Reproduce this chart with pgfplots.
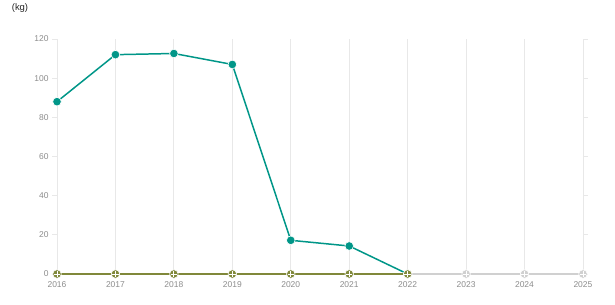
\documentclass[border=0pt]{standalone}
\usepackage{pgfplots}
\pgfplotsset{compat=1.18}
\usepackage{fontspec}
\setmainfont{Liberation Sans}
\definecolor{teal1}{RGB}{0,150,136}
\definecolor{olive1}{RGB}{128,136,58}
\definecolor{lgray}{RGB}{208,208,208}
\definecolor{gridc}{RGB}{232,232,232}
\definecolor{tickc}{RGB}{140,140,140}
\begin{document}
\begin{tikzpicture}
\useasboundingbox (-57bp,-31bp) rectangle (558bp,274bp);
\begin{axis}[
  at={(0,0)}, anchor=south west,
  scale only axis, width=526bp, height=235bp,
  xmin=2016, xmax=2025, ymin=0, ymax=120,
  xtick={2016,...,2025}, minor x tick num=1,
  ytick={0,20,...,120},
  xmajorgrids, xminorgrids, ymajorgrids=false,
  major grid style={gridc, line width=0.8pt},
  minor grid style={gridc, line width=0.8pt},
  axis line style={draw=none},
  x tick style={draw=none}, minor x tick style={draw=none},
  y tick style={draw=gridc, line width=0.8pt},
  tick align=outside, major tick length=5bp,
  /pgf/number format/assume math mode=true,
  x tick label style={/pgf/number format/1000 sep={}, font=\fontsize{8.5}{10}\selectfont, text=tickc, yshift=1bp},
  y tick label style={font=\fontsize{8.5}{10}\selectfont, text=tickc},
  clip=false,
]
\addplot[teal1, line width=1.5pt, mark=*, mark size=4.3bp, mark options={draw=white, line width=0.6pt, fill=teal1}]
  coordinates {(2016,88) (2017,112) (2018,112.6) (2019,107) (2020,17.2) (2021,14.3) (2022,0)};
\addplot[lgray, line width=1.2pt, mark=*, mark size=4.3bp, mark options={draw=white, line width=0.6pt, fill=lgray}]
  coordinates {(2022,0) (2023,0) (2024,0) (2025,0)};
\addplot[lgray, only marks, mark=+, mark size=3.2bp, mark options={draw=white, line width=0.9pt}]
  coordinates {(2023,0) (2024,0) (2025,0)};
\addplot[olive1, line width=1.2pt, mark=*, mark size=4.3bp, mark options={draw=white, line width=0.6pt, fill=olive1}]
  coordinates {(2016,0) (2017,0) (2018,0) (2019,0) (2020,0) (2021,0) (2022,0)};
\addplot[olive1, only marks, mark=+, mark size=3.2bp, mark options={draw=white, line width=0.9pt}]
  coordinates {(2016,0) (2017,0) (2018,0) (2019,0) (2020,0) (2021,0) (2022,0)};
\end{axis}
\node[font=\fontsize{9.5}{11}\selectfont, text=black!85] at (-37bp,266bp) {(kg)};
\end{tikzpicture}
\end{document}
